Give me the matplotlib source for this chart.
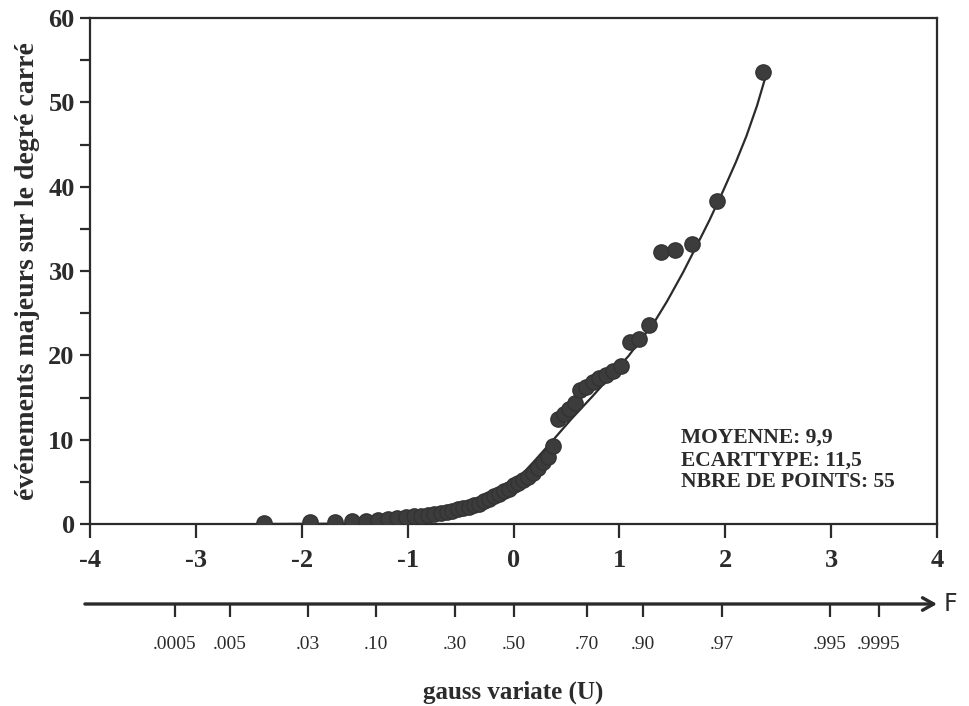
import matplotlib
matplotlib.use("Agg")
import matplotlib.pyplot as plt
from matplotlib.ticker import MultipleLocator

plt.rcParams["axes.unicode_minus"] = False

u = [-2.36, -1.92, -1.69, -1.525, -1.393, -1.282, -1.184, -1.097, -1.017, -0.943,
     -0.874, -0.809, -0.748, -0.689, -0.632, -0.577, -0.524, -0.473, -0.423, -0.373,
     -0.325, -0.277, -0.230, -0.183, -0.137, -0.091, -0.046, 0.0,
     0.046, 0.091, 0.137, 0.183, 0.230, 0.277, 0.325, 0.373, 0.423, 0.473,
     0.524, 0.577, 0.632, 0.689, 0.748, 0.809, 0.874, 0.943, 1.017, 1.097,
     1.184, 1.282, 1.393, 1.525, 1.69, 1.92, 2.36]
# events per square degree
events = [0.1, 0.2, 0.2, 0.3, 0.4, 0.5, 0.6, 0.7, 0.8, 0.9,
          1.0, 1.1, 1.2, 1.3, 1.4, 1.6, 1.8, 1.9, 2.0, 2.2,
          2.4, 2.7, 3.0, 3.3, 3.6, 3.9, 4.2, 4.6,
          4.9, 5.2, 5.6, 6.0, 6.6, 7.3, 8.0, 9.3, 12.4, 13.0,
          13.6, 14.4, 15.9, 16.3, 16.8, 17.3, 17.7, 18.2, 18.7, 21.6,
          21.9, 23.6, 32.3, 32.5, 33.2, 38.3, 53.6]

# fitted curve
curve_u = [-2.4, -1.5, -1.0, -0.6, -0.3, 0.0, 0.2, 0.37, 0.55, 0.743, 0.9,
           1.085, 1.2, 1.333, 1.45, 1.6, 1.73, 1.85, 1.98, 2.1, 2.2, 2.3, 2.38]
curve_y = [0.0, 0.05, 0.3, 1.0, 2.3, 4.8, 7.5, 9.9, 12.5, 15.1, 17.3,
           19.9, 21.8, 24.0, 26.4, 29.8, 33.0, 36.0, 39.5, 42.9, 46.0, 49.6, 53.0]

# probability scale under the chart (tick position in U, label)
prob_pos = [-3.2, -2.68, -1.94, -1.30, -0.55, 0.0, 0.69, 1.22, 1.97, 2.99, 3.45]
prob_labels = [".0005", ".005", ".03", ".10", ".30", ".50", ".70", ".90", ".97", ".995", ".9995"]

stats_text = "MOYENNE: 9,9\nECARTTYPE: 11,5\nNBRE DE POINTS: 55"

serif = "Liberation Serif"
ink = "#2b2b2b"

fig = plt.figure(figsize=(9.69, 7.06), dpi=100)
ax = fig.add_axes([90 / 969, 1 - 524 / 706, 847 / 969, 506 / 706])

ax.plot(curve_u, curve_y, color=ink, lw=1.6, zorder=2)
ax.plot(u, events, "o", ms=11, color="#3c3c3c", mec="#333333", zorder=3)

ax.set_xlim(-4, 4)
ax.set_ylim(0, 60)
ax.set_xticks(range(-4, 5))
ax.yaxis.set_major_locator(MultipleLocator(10))
ax.yaxis.set_minor_locator(MultipleLocator(5))
for s in ax.spines.values():
    s.set_linewidth(1.6)
    s.set_color(ink)
ax.tick_params(axis="x", direction="out", length=10, width=1.6, pad=8, colors=ink)
ax.tick_params(axis="y", which="both", direction="out", length=7, width=1.6, pad=4, colors=ink)
for lab in ax.get_xticklabels() + ax.get_yticklabels():
    lab.set_fontfamily(serif)
    lab.set_fontweight("bold")
    lab.set_fontsize(19)

ax.set_ylabel("événements majeurs sur le degré carré", fontfamily=serif,
              fontweight="bold", fontsize=20, labelpad=6, color=ink)

ax.text(0.698, 0.19, stats_text, transform=ax.transAxes, fontfamily=serif,
        fontweight="bold", fontsize=15.5, color=ink, va="top", ha="left",
        linespacing=1.15)

# probability axis with arrow
pax = fig.add_axes([90 / 969, 1 - 604 / 706, 847 / 969, 0.0001])
pax.set_xlim(-4, 4)
pax.set_yticks([])
for s in pax.spines.values():
    s.set_visible(False)
pax.set_xticks(prob_pos)
pax.set_xticklabels(prob_labels, fontfamily=serif, fontsize=14, color=ink)
pax.tick_params(axis="x", direction="out", length=9, width=1.6, pad=14, colors=ink)
pax.annotate("", xy=(1.0, 0), xytext=(-0.006, 0), xycoords="axes fraction",
             arrowprops=dict(arrowstyle="->,head_length=0.8,head_width=0.45",
                             lw=2.4, color=ink, shrinkA=0, shrinkB=0))
pax.text(1.008, 0, "F", transform=pax.transAxes, fontfamily="DejaVu Sans",
         fontsize=17, va="center", ha="left", color=ink)
pax.set_xlabel("gauss variate (U)", fontfamily=serif, fontweight="bold",
               fontsize=18, labelpad=20, color=ink)

fig.savefig("out.png", dpi=100, facecolor="white")
